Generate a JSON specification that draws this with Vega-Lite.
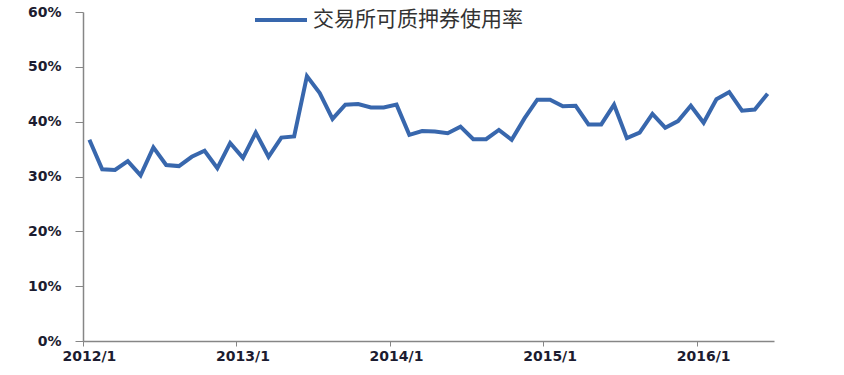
{
  "$schema": "https://vega.github.io/schema/vega-lite/v6.json",
  "width": 691,
  "height": 329,
  "autosize": "none",
  "padding": {"left": 83, "top": 12, "right": 70, "bottom": 34},
  "background": "white",
  "config": {"view": {"stroke": null}, "font": "DejaVu Sans"},
  "data": {
    "values": [
      {"month": "2012/1", "rate": 0.367}, {"month": "2012/2", "rate": 0.313}, {"month": "2012/3", "rate": 0.312},
      {"month": "2012/4", "rate": 0.328}, {"month": "2012/5", "rate": 0.302}, {"month": "2012/6", "rate": 0.353},
      {"month": "2012/7", "rate": 0.321}, {"month": "2012/8", "rate": 0.319}, {"month": "2012/9", "rate": 0.336},
      {"month": "2012/10", "rate": 0.347}, {"month": "2012/11", "rate": 0.315}, {"month": "2012/12", "rate": 0.361},
      {"month": "2013/1", "rate": 0.334}, {"month": "2013/2", "rate": 0.380}, {"month": "2013/3", "rate": 0.336},
      {"month": "2013/4", "rate": 0.371}, {"month": "2013/5", "rate": 0.373}, {"month": "2013/6", "rate": 0.483},
      {"month": "2013/7", "rate": 0.452}, {"month": "2013/8", "rate": 0.405}, {"month": "2013/9", "rate": 0.431},
      {"month": "2013/10", "rate": 0.432}, {"month": "2013/11", "rate": 0.426}, {"month": "2013/12", "rate": 0.426},
      {"month": "2014/1", "rate": 0.431}, {"month": "2014/2", "rate": 0.376}, {"month": "2014/3", "rate": 0.383},
      {"month": "2014/4", "rate": 0.382}, {"month": "2014/5", "rate": 0.379}, {"month": "2014/6", "rate": 0.391},
      {"month": "2014/7", "rate": 0.368}, {"month": "2014/8", "rate": 0.368}, {"month": "2014/9", "rate": 0.385},
      {"month": "2014/10", "rate": 0.367}, {"month": "2014/11", "rate": 0.406}, {"month": "2014/12", "rate": 0.440},
      {"month": "2015/1", "rate": 0.440}, {"month": "2015/2", "rate": 0.428}, {"month": "2015/3", "rate": 0.429},
      {"month": "2015/4", "rate": 0.395}, {"month": "2015/5", "rate": 0.395}, {"month": "2015/6", "rate": 0.431},
      {"month": "2015/7", "rate": 0.370}, {"month": "2015/8", "rate": 0.380}, {"month": "2015/9", "rate": 0.414},
      {"month": "2015/10", "rate": 0.389}, {"month": "2015/11", "rate": 0.401}, {"month": "2015/12", "rate": 0.429},
      {"month": "2016/1", "rate": 0.398}, {"month": "2016/2", "rate": 0.441}, {"month": "2016/3", "rate": 0.454},
      {"month": "2016/4", "rate": 0.420}, {"month": "2016/5", "rate": 0.422}, {"month": "2016/6", "rate": 0.451}
    ]
  },
  "mark": {"type": "line", "strokeWidth": 4, "strokeJoin": "miter"},
  "encoding": {
    "x": {
      "field": "month",
      "type": "ordinal",
      "sort": null,
      "bandPosition": 0.5,
      "scale": {"type": "band", "paddingInner": 0, "paddingOuter": 0},
      "axis": {
        "values": ["2012/1", "2013/1", "2014/1", "2015/1", "2016/1"],
        "bandPosition": 0,
        "labelAngle": 0,
        "title": null,
        "grid": false,
        "tickSize": 5,
        "domainColor": "#868686",
        "tickColor": "#868686",
        "domainWidth": 1.5,
        "labelFont": "DejaVu Sans",
        "labelFontWeight": "bold",
        "labelFontSize": 14,
        "labelColor": "#1c1c30",
        "labelPadding": 3
      }
    },
    "y": {
      "field": "rate",
      "type": "quantitative",
      "scale": {"domain": [0, 0.6]},
      "axis": {
        "values": [0, 0.1, 0.2, 0.3, 0.4, 0.5, 0.6],
        "format": ".0%",
        "title": null,
        "grid": false,
        "tickSize": 8,
        "domainColor": "#868686",
        "tickColor": "#868686",
        "domainWidth": 1.5,
        "labelFont": "DejaVu Sans",
        "labelFontWeight": "bold",
        "labelFontSize": 14,
        "labelColor": "#1c1c30",
        "labelPadding": 14
      }
    },
    "color": {
      "datum": "交易所可质押券使用率",
      "type": "nominal",
      "scale": {"range": ["#3867ad"]},
      "legend": {
        "orient": "none",
        "legendX": 170,
        "legendY": -20,
        "title": null,
        "padding": 0,
        "symbolType": "stroke",
        "symbolSize": 2704,
        "symbolStrokeWidth": 4,
        "labelFont": "Noto Sans CJK SC",
        "labelFontSize": 21,
        "labelColor": "#333333",
        "labelOffset": 4,
        "labelLimit": 400
      }
    }
  }
}
